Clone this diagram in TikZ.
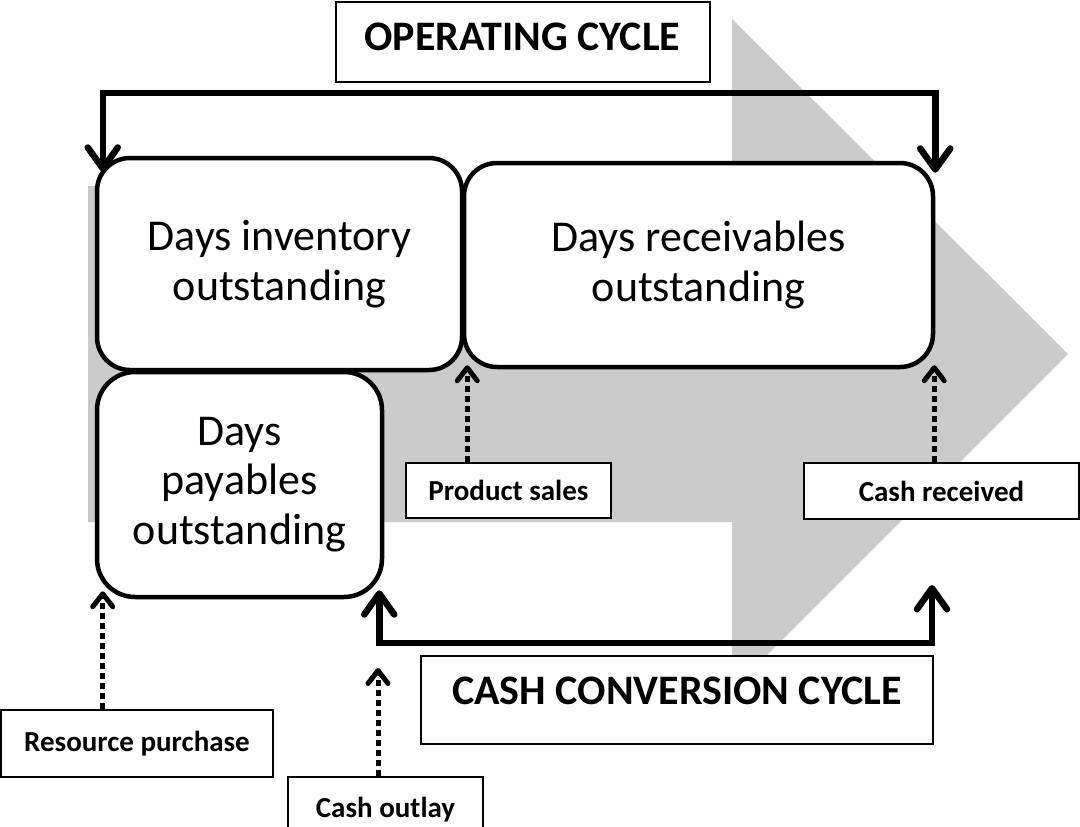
\documentclass[tikz,border=0pt]{standalone}
\usepackage{fontspec}
\setmainfont{Carlito}
\usetikzlibrary{arrows.meta}
\definecolor{arrowgray}{RGB}{203,203,203}
\begin{document}
\begin{tikzpicture}[x=1pt,y=-1pt,
  roundbox/.style={draw, line width=4.5pt, rounded corners=33pt, fill=white,
    inner sep=0pt, align=center, font=\fontsize{44}{49.5}\selectfont},
  tagbox/.style={draw, line width=2pt, fill=white, inner sep=0pt,
    font=\bfseries\fontsize{29}{34}\selectfont},
  titlebox/.style={draw, line width=2pt, fill=white, inner sep=0pt,
    font=\bfseries\fontsize{42}{48}\selectfont},
  cyclearrow/.style={line width=6.5pt, line join=miter,
    {Straight Barb[round,length=21pt,width=30pt]}-{Straight Barb[round,length=21pt,width=30pt]}},
  eventarrow/.style={line width=5pt, dash pattern=on 6pt off 4pt,
    -{Straight Barb[round,length=13pt,width=20pt]}},
]
\useasboundingbox (0,0) rectangle (1080,827);
\clip (0,0) rectangle (1080,827);

% broad grey process arrow in the background
\fill[arrowgray] (88,186) -- (732,186) -- (732,19) -- (1068,354) -- (732,690)
  -- (732,522) -- (88,522) -- cycle;

% the three stages
\node[roundbox, minimum width=365, minimum height=212] (dio) at (279.5,264)
  {Days inventory\\outstanding};
\node[roundbox, minimum width=469, minimum height=204] (dro) at (698.5,265)
  {Days receivables\\outstanding};
\node[roundbox, rounded corners=38pt, minimum width=285, minimum height=225] (dpo) at (239.5,484.5)
  {Days\\payables\\outstanding};

% events
\node[tagbox, minimum width=205, minimum height=55] (ps) at (508.5,490.5) {Product sales};
\node[tagbox, minimum width=275, minimum height=56] (cr) at (941.5,491) {Cash received};
\node[tagbox, minimum width=272, minimum height=67] (rp) at (137,743.5) {Resource purchase};
\node[tagbox, minimum width=195, minimum height=66] (co) at (385.5,810) {Cash outlay};

% cycle titles
\node[titlebox, minimum width=374, minimum height=80, text height=27pt, text depth=11pt]
  (oc) at (522.5,42) {OPERATING CYCLE};
\node[titlebox, minimum width=512, minimum height=88, text height=27pt, text depth=19pt]
  (ccc) at (677,700) {CASH CONVERSION CYCLE};

% operating cycle bracket
\coordinate (opBar) at (0,93);
\coordinate (dioIn) at ([shift={(8,16)}]dio.north west);
\coordinate (droIn) at ([shift={(0,12)}]dro.north east);
\draw[cyclearrow] (dioIn) -- (dioIn |- opBar) -- (droIn |- opBar) -- (droIn);

% cash conversion cycle bracket
\coordinate (cccBar) at (0,643);
\coordinate (dpoOut) at ([shift={(-5,-9)}]dpo.south east);
\coordinate (cashIn) at (932,585);
\draw[cyclearrow] (dpoOut) -- (dpoOut |- cccBar) -- (cashIn |- cccBar) -- (cashIn);

% event arrows
\coordinate (psTip) at ([shift={(3,-7)}]dio.south east);
\coordinate (crTip) at ([shift={(-1,-4)}]dro.south east);
\coordinate (rpTip) at ([shift={(8,-8)}]dpo.south west);
\coordinate (coTip) at (378,668);
\draw[eventarrow] (ps.north -| psTip) -- (psTip);
\draw[eventarrow] (cr.north -| crTip) -- (crTip);
\draw[eventarrow] (rp.north -| rpTip) -- (rpTip);
\draw[eventarrow] (co.north -| coTip) -- (coTip);
\end{tikzpicture}
\end{document}
